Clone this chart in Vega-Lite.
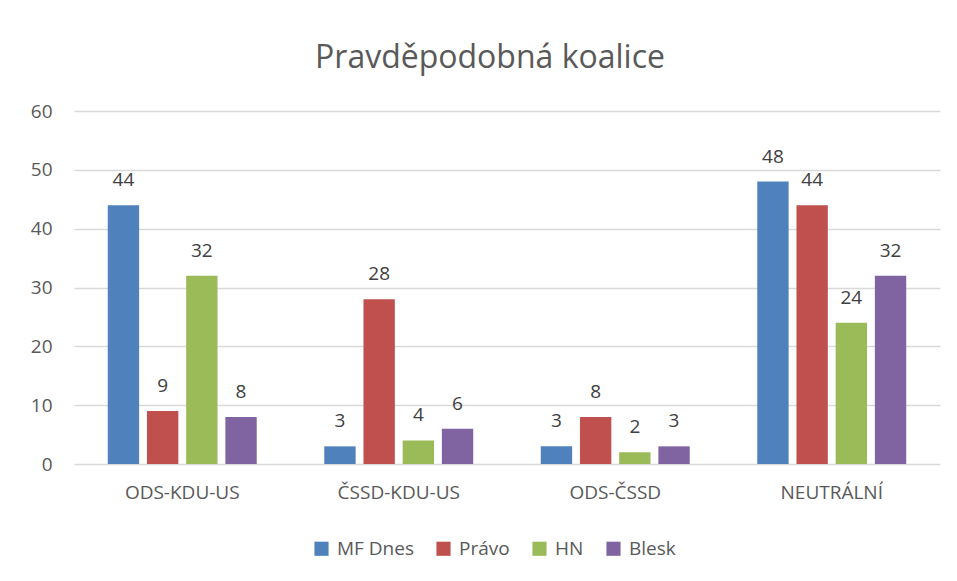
{
  "$schema": "https://vega.github.io/schema/vega-lite/v6.json",
  "width": 866,
  "height": 353,
  "autosize": {"type": "none"},
  "padding": {"left": 74, "top": 111, "right": 17, "bottom": 117},
  "background": "white",
  "title": {
    "text": "Pravděpodobná koalice",
    "font": "Open Sans",
    "fontSize": 32,
    "fontWeight": "normal",
    "color": "#595959",
    "anchor": "middle",
    "dx": -17,
    "offset": 27
  },
  "data": {
    "values": [
      {"koalice": "ODS-KDU-US", "noviny": "MF Dnes", "hodnota": 44},
      {"koalice": "ODS-KDU-US", "noviny": "Právo", "hodnota": 9},
      {"koalice": "ODS-KDU-US", "noviny": "HN", "hodnota": 32},
      {"koalice": "ODS-KDU-US", "noviny": "Blesk", "hodnota": 8},
      {"koalice": "ČSSD-KDU-US", "noviny": "MF Dnes", "hodnota": 3},
      {"koalice": "ČSSD-KDU-US", "noviny": "Právo", "hodnota": 28},
      {"koalice": "ČSSD-KDU-US", "noviny": "HN", "hodnota": 4},
      {"koalice": "ČSSD-KDU-US", "noviny": "Blesk", "hodnota": 6},
      {"koalice": "ODS-ČSSD", "noviny": "MF Dnes", "hodnota": 3},
      {"koalice": "ODS-ČSSD", "noviny": "Právo", "hodnota": 8},
      {"koalice": "ODS-ČSSD", "noviny": "HN", "hodnota": 2},
      {"koalice": "ODS-ČSSD", "noviny": "Blesk", "hodnota": 3},
      {"koalice": "NEUTRÁLNÍ", "noviny": "MF Dnes", "hodnota": 48},
      {"koalice": "NEUTRÁLNÍ", "noviny": "Právo", "hodnota": 44},
      {"koalice": "NEUTRÁLNÍ", "noviny": "HN", "hodnota": 24},
      {"koalice": "NEUTRÁLNÍ", "noviny": "Blesk", "hodnota": 32}
    ]
  },
  "encoding": {
    "x": {
      "field": "koalice",
      "type": "nominal",
      "sort": ["ODS-KDU-US", "ČSSD-KDU-US", "ODS-ČSSD", "NEUTRÁLNÍ"],
      "scale": {"paddingInner": 0.312, "paddingOuter": 0.156},
      "axis": {
        "title": null,
        "labelAngle": 0,
        "labelFont": "Open Sans",
        "labelFontSize": 19,
        "labelColor": "#595959",
        "labelPadding": 19,
        "ticks": false,
        "domain": false
      }
    },
    "xOffset": {
      "field": "noviny",
      "type": "nominal",
      "sort": ["MF Dnes", "Právo", "HN", "Blesk"],
      "scale": {"paddingInner": 0.2, "paddingOuter": 0}
    },
    "y": {
      "field": "hodnota",
      "type": "quantitative",
      "scale": {"domain": [0, 60]},
      "axis": {
        "title": null,
        "values": [0, 10, 20, 30, 40, 50, 60],
        "labelFont": "Open Sans",
        "labelFontSize": 19,
        "labelColor": "#595959",
        "labelPadding": 22,
        "ticks": false,
        "domain": false,
        "gridColor": "#d9d9d9",
        "gridWidth": 1.3
      }
    }
  },
  "layer": [
    {
      "mark": {"type": "bar"},
      "encoding": {
        "color": {
          "field": "noviny",
          "type": "nominal",
          "sort": ["MF Dnes", "Právo", "HN", "Blesk"],
          "scale": {
            "domain": ["MF Dnes", "Právo", "HN", "Blesk"],
            "range": ["#4F81BD", "#C0504D", "#9BBB59", "#8064A2"]
          },
          "legend": {
            "title": null,
            "orient": "none",
            "legendX": 238,
            "legendY": 428,
            "direction": "horizontal",
            "symbolType": "square",
            "symbolSize": 200,
            "symbolStrokeWidth": 0,
            "symbolOpacity": 1,
            "labelFont": "Open Sans",
            "labelFontSize": 19,
            "labelColor": "#595959",
            "labelOffset": 6,
            "columnPadding": 20
          }
        }
      }
    },
    {
      "mark": {
        "type": "text",
        "dy": -25,
        "font": "Open Sans",
        "fontSize": 19,
        "color": "#404040"
      },
      "encoding": {
        "text": {"field": "hodnota", "type": "quantitative"}
      }
    }
  ],
  "config": {
    "view": {"stroke": null}
  }
}
